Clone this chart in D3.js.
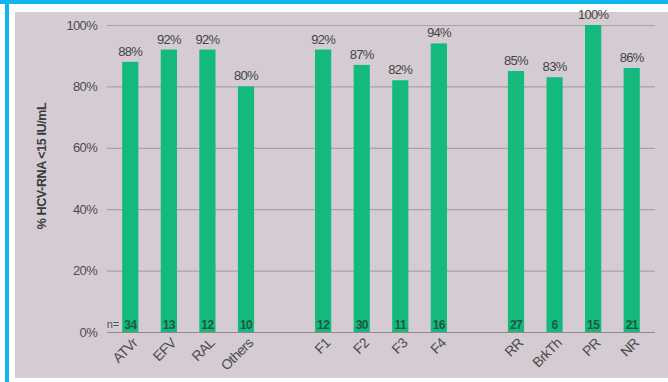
<!DOCTYPE html>
<html>
<head>
<meta charset="utf-8">
<script src="https://cdn.jsdelivr.net/npm/d3@7"></script>
<style>
  body { margin: 0; background: #fff; }
  svg { display: block; font-family: "Liberation Sans", Arial, sans-serif; }
</style>
</head>
<body>
<svg id="chart" width="668" height="382"></svg>
<script>
// data
var categories = ["ATVr", "EFV", "RAL", "Others", "F1", "F2", "F3", "F4", "RR", "BrkTh", "PR", "NR"];
var groups = [0, 0, 0, 0, 1, 1, 1, 1, 2, 2, 2, 2];
var values = [88, 92, 92, 80, 92, 87, 82, 94, 85, 83, 100, 86];
var nCounts = [34, 13, 12, 10, 12, 30, 11, 16, 27, 6, 15, 21];
var yTicks = [0, 20, 40, 60, 80, 100];
var yTitle = "% HCV-RNA <15 IU/mL";

var svg = d3.select("#chart");

// frame: cyan rule on top and left, pinkish grey panel
svg.append("rect").attr("x", 0).attr("y", 0).attr("width", 668).attr("height", 4).attr("fill", "#12b4ee");
svg.append("rect").attr("x", 5).attr("y", 0).attr("width", 4).attr("height", 382).attr("fill", "#12b4ee");
svg.append("rect").attr("x", 15).attr("y", 12).attr("width", 653).attr("height", 366).attr("fill", "#d4ccd2");

var margin = {top: 25, left: 111, right: 17, bottom: 50};
var plotW = 668 - margin.left - margin.right,
    plotH = 332 - margin.top;

// slots with a blank one between the groups
var slots = [];
categories.forEach(function(c, i) {
  if (i > 0 && groups[i] != groups[i - 1]) slots.push("_gap" + groups[i]);
  slots.push(c);
});

var x = d3.scaleBand().domain(slots).range([0, plotW]).paddingInner(0.58).paddingOuter(0.29);
var y = d3.scaleLinear().domain([0, 100]).range([plotH, 0]);

var g = svg.append("g").attr("transform", "translate(" + margin.left + "," + margin.top + ")");

// gridlines
var yAxis = g.append("g")
  .call(d3.axisLeft(y).tickValues(yTicks).tickSize(-plotW - 8).tickFormat(function(d) { return d + "%"; }))
  .attr("transform", "translate(-4,0)");
yAxis.select(".domain").remove();
yAxis.selectAll(".tick line").attr("stroke", "#aaa2a9").attr("stroke-width", 1.2);
yAxis.selectAll(".tick text")
  .attr("x", -10).attr("fill", "#4d4d4d").style("font-size", "13px").style("letter-spacing", "-0.7px");
yAxis.selectAll(".tick").filter(function(d) { return d == 0; }).select("line").attr("stroke", "#8f878e");

// bars
var data = categories.map(function(c, i) { return {cat: c, v: values[i], n: nCounts[i]}; });

g.selectAll(".bar").data(data).enter().append("rect")
  .attr("class", "bar")
  .attr("x", function(d) { return x(d.cat); })
  .attr("width", x.bandwidth())
  .attr("y", function(d) { return y(d.v); })
  .attr("height", function(d) { return plotH - y(d.v); })
  .attr("fill", "#13b97d");

// value labels
g.selectAll(".val").data(data).enter().append("text")
  .attr("x", function(d) { return x(d.cat) + x.bandwidth() / 2; })
  .attr("y", function(d) { return y(d.v) - 6; })
  .attr("text-anchor", "middle")
  .attr("fill", "#444")
  .style("font-size", "13px").style("letter-spacing", "-0.7px")
  .text(function(d) { return d.v + "%"; });

// n counts inside bars
g.selectAll(".n").data(data).enter().append("text")
  .attr("x", function(d) { return x(d.cat) + x.bandwidth() / 2; })
  .attr("y", plotH - 3)
  .attr("text-anchor", "middle")
  .attr("fill", "#1c5a40")
  .style("font-size", "12px").style("font-weight", "bold").style("letter-spacing", "-0.6px")
  .text(function(d) { return d.n; });

g.append("text")
  .attr("x", x(categories[0]) - 3).attr("y", plotH - 4)
  .attr("text-anchor", "end").attr("fill", "#555")
  .style("font-size", "11px")
  .text("n=");

// rotated category labels
g.selectAll(".cat").data(data).enter().append("text")
  .attr("text-anchor", "end")
  .attr("transform", function(d) {
    return "translate(" + (x(d.cat) + x.bandwidth() / 2 + 8) + "," + (plotH + 12) + ") rotate(-45)";
  })
  .attr("fill", "#4d4d4d")
  .style("font-size", "14px").style("letter-spacing", "-0.6px")
  .text(function(d) { return d.cat; });

// y axis title
svg.append("text")
  .attr("transform", "translate(46,166) rotate(-90)")
  .attr("text-anchor", "middle")
  .attr("fill", "#3a3a3a")
  .style("font-size", "12.5px").style("font-weight", "bold").style("letter-spacing", "-0.4px")
  .text(yTitle);
</script>
</body>
</html>
